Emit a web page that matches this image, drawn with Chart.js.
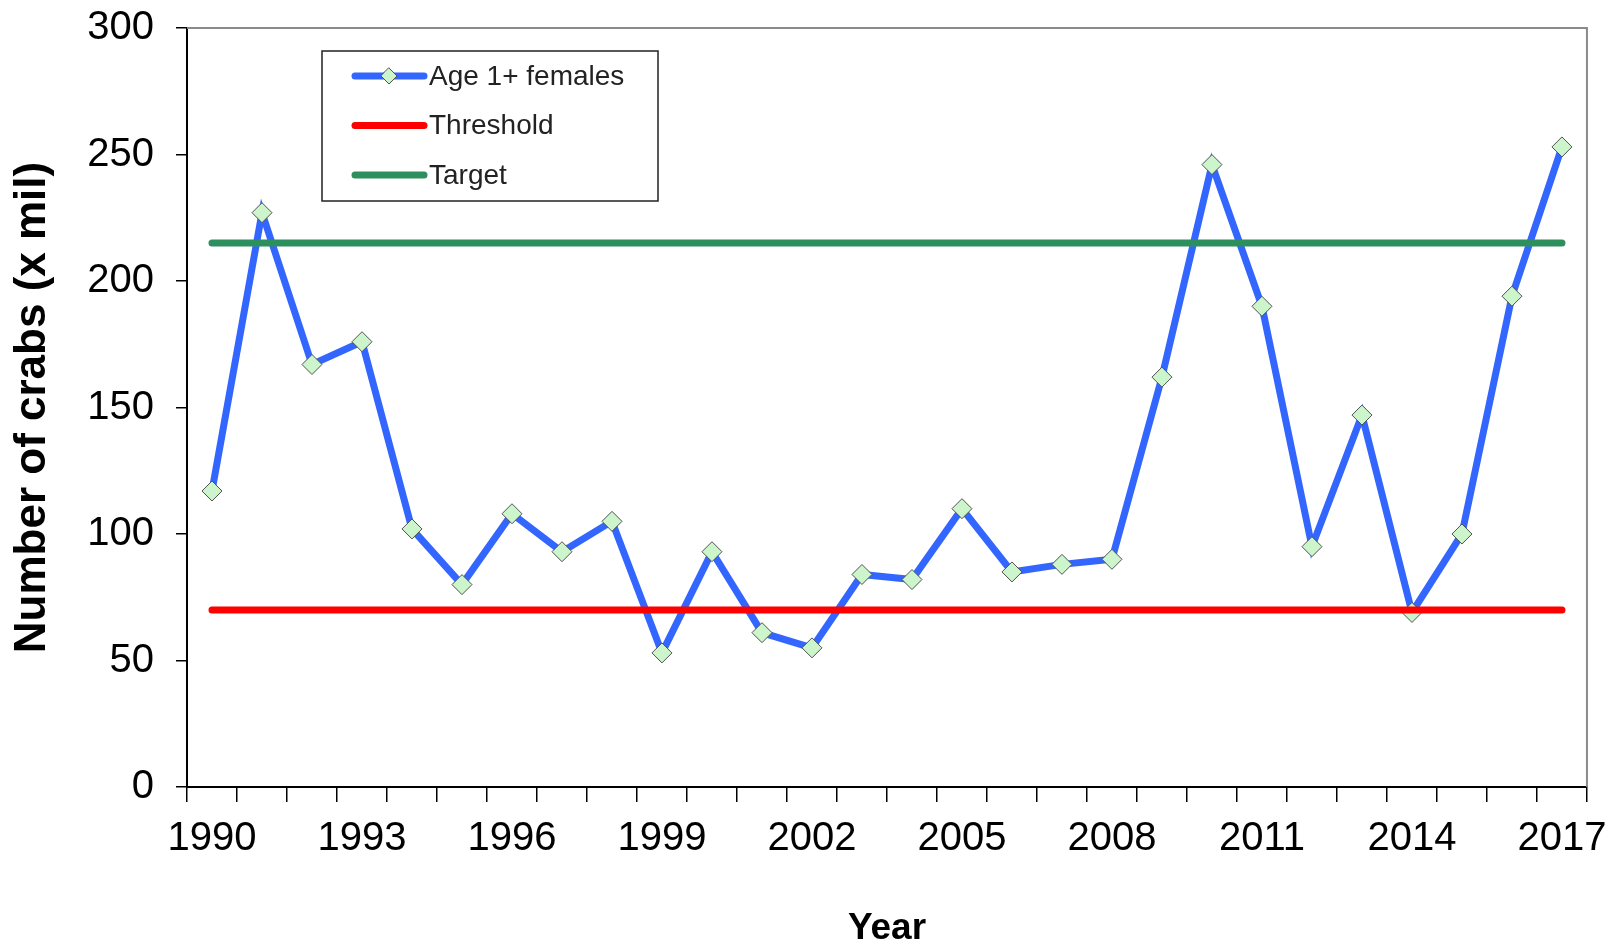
<!DOCTYPE html>
<html lang="en">
<head>
    <meta charset="UTF-8">
    <title>Age 1+ female crabs</title>
    <script src="https://cdn.jsdelivr.net/npm/chart.js@4.4.1/dist/chart.umd.min.js"></script>
    <style>
        body { margin: 0; background: #fff; }
        .chart-container { position: relative; width: 1620px; height: 947px; }
    </style>
</head>
<body>
    <div class="chart-container">
        <canvas id="crab-chart"></canvas>
    </div>
    <script>
        // Data
        const years = ['1990', '1991', '1992', '1993', '1994', '1995', '1996', '1997', '1998', '1999',
                       '2000', '2001', '2002', '2003', '2004', '2005', '2006', '2007', '2008', '2009',
                       '2010', '2011', '2012', '2013', '2014', '2015', '2016', '2017'];
        const age1Females = [117, 227, 167, 176, 102, 80, 108, 93, 105, 53,
                             93, 61, 55, 84, 82, 110, 85, 88, 90, 162,
                             246, 190, 95, 147, 69, 100, 194, 253];
        const threshold = [70, 70, 70, 70, 70, 70, 70, 70, 70, 70,
                           70, 70, 70, 70, 70, 70, 70, 70, 70, 70,
                           70, 70, 70, 70, 70, 70, 70, 70];
        const target = [215, 215, 215, 215, 215, 215, 215, 215, 215, 215,
                        215, 215, 215, 215, 215, 215, 215, 215, 215, 215,
                        215, 215, 215, 215, 215, 215, 215, 215];
        const labelledYears = ['1990', '1993', '1996', '1999', '2002', '2005', '2008', '2011', '2014', '2017'];
        const yTicks = [0, 50, 100, 150, 200, 250, 300];

        const plainFont = "'Liberation Sans', Arial, sans-serif";

        // grey frame on top and right of the plot area
        const framePlugin = {
            id: 'frame',
            beforeDatasetsDraw(chart) {
                const { ctx, chartArea: a } = chart;
                ctx.save();
                ctx.strokeStyle = '#8a8a8a';
                ctx.lineWidth = 2;
                ctx.beginPath();
                ctx.moveTo(a.left, a.top);
                ctx.lineTo(a.right, a.top);
                ctx.lineTo(a.right, a.bottom);
                ctx.stroke();
                ctx.restore();
            }
        };

        // boxed legend inside the plot, like the original
        const boxLegend = {
            id: 'boxLegend',
            afterDraw(chart) {
                const { ctx, chartArea: a } = chart;
                const x = a.left + 135, y = a.top + 23, w = 336, h = 150;
                ctx.save();
                ctx.fillStyle = '#fff';
                ctx.fillRect(x, y, w, h);
                ctx.strokeStyle = '#222';
                ctx.lineWidth = 1.5;
                ctx.strokeRect(x, y, w, h);
                ctx.font = '28px ' + plainFont;
                ctx.textBaseline = 'middle';
                chart.data.datasets.forEach((ds, i) => {
                    const ry = y + 25 + i * 49.5;
                    ctx.strokeStyle = ds.borderColor;
                    ctx.lineWidth = 7;
                    ctx.lineCap = 'round';
                    ctx.beginPath();
                    ctx.moveTo(x + 33, ry);
                    ctx.lineTo(x + 102, ry);
                    ctx.stroke();
                    if (ds.pointRadius > 0) {
                        const cx = x + 67, r = 8;
                        ctx.beginPath();
                        ctx.moveTo(cx, ry - r);
                        ctx.lineTo(cx + r, ry);
                        ctx.lineTo(cx, ry + r);
                        ctx.lineTo(cx - r, ry);
                        ctx.closePath();
                        ctx.fillStyle = ds.pointBackgroundColor;
                        ctx.fill();
                        ctx.strokeStyle = ds.pointBorderColor;
                        ctx.lineWidth = 1;
                        ctx.stroke();
                    }
                    ctx.fillStyle = '#222';
                    ctx.fillText(ds.label, x + 107, ry + 1);
                });
                ctx.restore();
            }
        };

        const ctx = document.getElementById('crab-chart').getContext('2d');
        new Chart(ctx, {
            type: 'line',
            data: {
                labels: years,
                datasets: [
                    {
                        label: 'Age 1+ females',
                        data: age1Females,
                        borderColor: '#3366ff',
                        borderWidth: 7,
                        pointStyle: 'rectRot',
                        pointRadius: 10,
                        pointBackgroundColor: '#ccf5cc',
                        pointBorderColor: '#505050',
                        pointBorderWidth: 1,
                        tension: 0,
                        order: 2
                    },
                    {
                        label: 'Threshold',
                        data: threshold,
                        borderColor: '#ff0000',
                        borderWidth: 7,
                        pointRadius: 0,
                        borderCapStyle: 'round',
                        order: 1
                    },
                    {
                        label: 'Target',
                        data: target,
                        borderColor: '#2e8f5e',
                        borderWidth: 7,
                        pointRadius: 0,
                        borderCapStyle: 'round',
                        order: 0
                    }
                ]
            },
            options: {
                responsive: true,
                maintainAspectRatio: false,
                animation: false,
                layout: { padding: { top: 28, right: 31, left: 0, bottom: 0 } },
                plugins: {
                    legend: { display: false },
                    tooltip: { enabled: false }
                },
                scales: {
                    x: {
                        offset: true,
                        afterFit: scale => { scale.height = 160; },
                        grid: { offset: true, drawOnChartArea: false, tickLength: 15, color: '#000', lineWidth: 1.5 },
                        border: { color: '#000', width: 2 },
                        ticks: {
                            autoSkip: false,
                            maxRotation: 0,
                            padding: 13,
                            color: '#000',
                            font: { family: plainFont, size: 40 },
                            callback: function (value) {
                                const lbl = this.getLabelForValue(value);
                                return labelledYears.includes(lbl) ? lbl : '';
                            }
                        },
                        title: {
                            display: true,
                            text: 'Year',
                            color: '#000',
                            font: { family: plainFont, size: 37, weight: 'bold', lineHeight: 1 },
                            padding: { top: 0, bottom: 0 }
                        }
                    },
                    y: {
                        min: 0,
                        max: 300,
                        afterFit: scale => {
                            scale.width = 187;
                            // the tick labels may poke out above the plot, as in the original
                            scale.paddingTop = 0;
                            scale.paddingBottom = 0;
                        },
                        afterBuildTicks: scale => { scale.ticks = yTicks.map(v => ({ value: v })); },
                        grid: { drawOnChartArea: false, tickLength: 11, color: '#000', lineWidth: 1.5 },
                        border: { color: '#000', width: 2 },
                        ticks: {
                            padding: 22,
                            color: '#000',
                            font: { family: plainFont, size: 40 }
                        },
                        title: {
                            display: true,
                            text: 'Number of crabs (x mil)',
                            color: '#000',
                            font: { family: plainFont, size: 44, weight: 'bold' },
                            padding: { top: 6, bottom: 0 }
                        }
                    }
                }
            },
            plugins: [framePlugin, boxLegend]
        });
    </script>
</body>
</html>
